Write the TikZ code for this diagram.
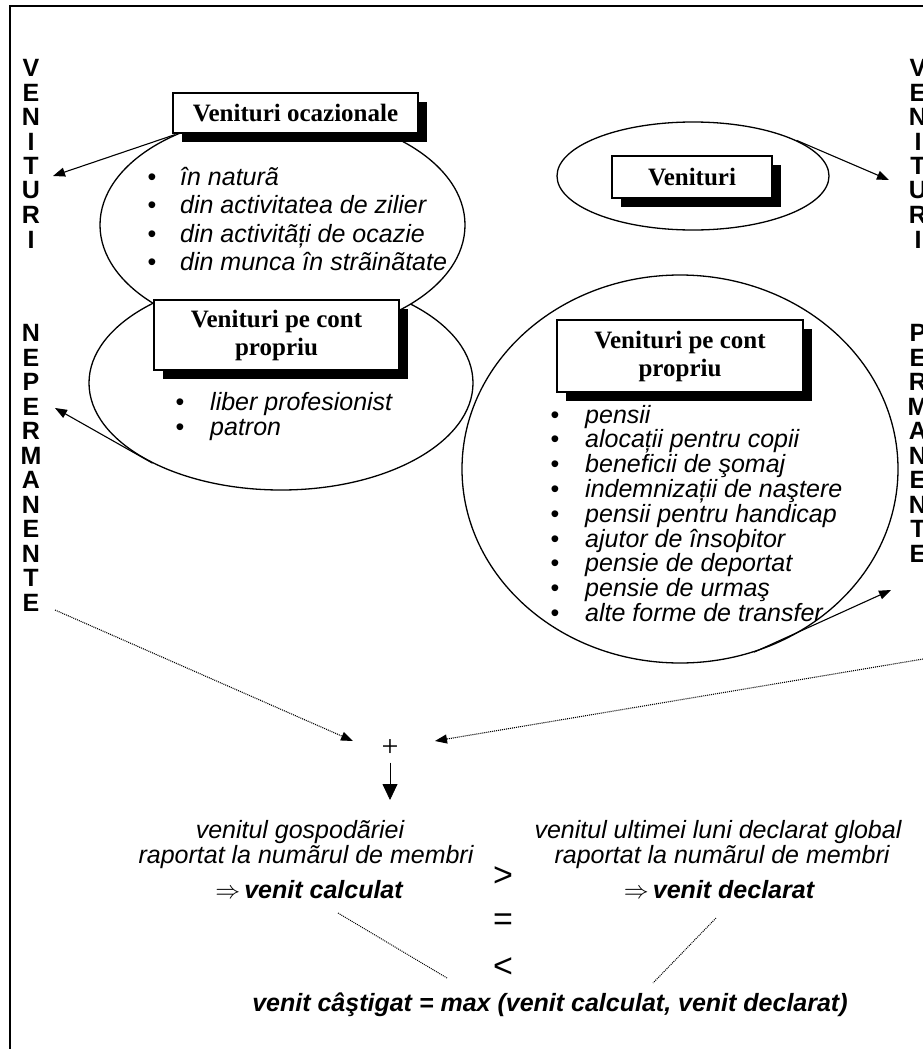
\documentclass[tikz,border=0pt]{standalone}
\usepackage{fontspec}
\setmainfont{Liberation Sans}
\newfontfamily\serifbf{Liberation Serif}
\usetikzlibrary{shapes.geometric,arrows.meta,shadows}
\begin{document}
\begin{tikzpicture}[x=1pt,y=-1pt,
  lt/.style={font=\fontsize{25}{25}\bfseries\selectfont, inner sep=0pt},
  lst/.style={font=\fontsize{25}{28}\itshape\selectfont, inner sep=0pt, anchor=base west},
  bul/.style={font=\fontsize{25}{28}\selectfont, inner sep=0pt, anchor=base},
  ttl/.style={draw, line width=1.2pt, fill=white, align=center, inner sep=0pt,
    font=\fontsize{25}{28}\serifbf\bfseries\selectfont,
    drop shadow={shadow xshift=9pt, shadow yshift=-9pt, fill=black, opacity=1}},
  ell/.style={draw, ellipse, line width=1.3pt, inner sep=0pt},
  arr/.style={line width=1.1pt, -{Triangle[length=12pt,width=9pt]}},
  dotarr/.style={line width=1.1pt, dash pattern=on 1pt off 1pt, -{Triangle[length=12pt,width=9pt]}},
  dotln/.style={line width=1pt, dash pattern=on 1pt off 1pt},
  btxt/.style={font=\fontsize{25}{28}\itshape\selectfont, inner sep=0pt},
  bbtxt/.style={font=\fontsize{25}{28}\bfseries\itshape\selectfont, inner sep=0pt},
  rel/.style={font=\fontsize{34}{34}\selectfont, inner sep=0pt}
]
\useasboundingbox (0,0) rectangle (923,1049);
\clip (0,0) rectangle (923,1049);
\fill[white] (0,0) rectangle (923,1049);
% frame
\draw[line width=2.2pt] (935,6) -- (10,6) -- (10,1060);

% left column
\foreach \l [count=\i] in {V,E,N,I,T,U,R,I}
  \node[lt] (lv\i) at (31,{68+24.5*(\i-1)}) {\l};
\foreach \l [count=\i] in {N,E,P,E,R,M,A,N,E,N,T,E}
  \node[lt] (ln\i) at (31,{333+24.5*(\i-1)}) {\l};
% right column
\foreach \l [count=\i] in {V,E,N,I,T,U,R,I}
  \node[lt] (rv\i) at (918,{68+24.5*(\i-1)}) {\l};
\foreach \l [count=\i] in {P,E,R,M,A,N,E,N,T,E}
  \node[lt] (rp\i) at (918,{333+24.5*(\i-1)}) {\l};

% ellipses
\node[ell, fill=white, minimum width=384pt, minimum height=214pt] (e2) at (281,383) {};
\node[ell, fill=white, minimum width=365pt, minimum height=222pt] (e1) at (282.5,225) {};
\node[ell, minimum width=272pt, minimum height=108pt] (ev) at (693,176) {};
\node[ell, minimum width=436pt, minimum height=388pt] (e3) at (680,469) {};

% title boxes
\node[ttl, minimum width=245pt, minimum height=40pt] (t1) at (295.5,113) {Venituri ocazionale};
\node[ttl, minimum width=160pt, minimum height=42pt] (tv) at (692,177) {Venituri};
\node[ttl, minimum width=245pt, minimum height=70pt] (t2) at (276.5,335) {Venituri pe cont\\propriu};
\node[ttl, minimum width=246pt, minimum height=72pt] (t3) at (680,356) {Venituri pe cont\\propriu};

% lists
\foreach \t [count=\i] in {în naturã,din activitatea de zilier,din activitãți de ocazie,din munca în strãinãtate} {
  \node[bul] (ob\i) at (152,{185+28.5*(\i-1)}) {•};
  \node[lst] (ot\i) at (180,{185+28.5*(\i-1)}) {\t};
}
\foreach \t [count=\i] in {liber profesionist,patron} {
  \node[bul] (pb\i) at (180,{410+25*(\i-1)}) {•};
  \node[lst] (pt\i) at (210,{410+25*(\i-1)}) {\t};
}
\foreach \t [count=\i] in {pensii,alocații pentru copii,beneficii de şomaj,indemnizații de naştere,pensii pentru handicap,ajutor de însoþitor,pensie de deportat,pensie de urmaş,alte forme de transfer} {
  \node[bul] (sb\i) at (555,{423+24.8*(\i-1)}) {•};
  \node[lst] (st\i) at (585,{423+24.8*(\i-1)}) {\t};
}

% solid arrows
\coordinate (tipA1) at (53,176);
\coordinate (tipA2) at (55,408);
\coordinate (tipA3) at (889,180);
\coordinate (tipA4) at (891,590);
\draw[arr] (e1.140.7) -- (tipA1);
\draw[arr] (e2.212.8) -- (tipA2);
\draw[arr] (ev.19) -- (tipA3);
\draw[arr] (e3.292.6) -- (tipA4);

% plus and dotted arrows
\node[font=\fontsize{30}{30}\serifbf\selectfont, inner sep=0pt] (plus) at (390,748) {+};
\coordinate (d1s) at (55,610);
\coordinate (d1e) at (353,741);
\coordinate (d2s) at (935,657);
\coordinate (d2e) at (435,741);
\draw[dotarr] (d1s) -- (d1e);
\draw[dotarr] (d2s) -- (d2e);
\coordinate (dtip) at (390,800);
\draw[line width=0.8pt, -{Triangle[length=16pt,width=15pt]}] (plus.south) ++(0,6) -- (dtip);

% bottom texts
\node[btxt] (g1) at (300,832) {venitul gospodãriei};
\node[btxt] (g2) at (306,857) {raportat la numãrul de membri};
\node[bbtxt] (g3) at (309,890) {$\Rightarrow$\,venit calculat};
\node[btxt] (d1) at (718,832) {venitul ultimei luni declarat global};
\node[btxt] (d2) at (722,857) {raportat la numãrul de membri};
\node[bbtxt] (d3) at (719,890) {$\Rightarrow$\,venit declarat};
\node[rel] (gt) at (503,877) {>};
\node[rel] (eq) at (503,922) {=};
\node[rel] (lt) at (503,968) {<};
\node[bbtxt] (res) at (550,1005) {venit câştigat = max (venit calculat, venit declarat)};
\coordinate (l1s) at (338,913);
\coordinate (l1e) at (447,978);
\coordinate (l2s) at (716,918);
\coordinate (l2e) at (653,983);
\draw[dotln] (l1s) -- (l1e);
\draw[dotln] (l2s) -- (l2e);
\end{tikzpicture}
\end{document}
